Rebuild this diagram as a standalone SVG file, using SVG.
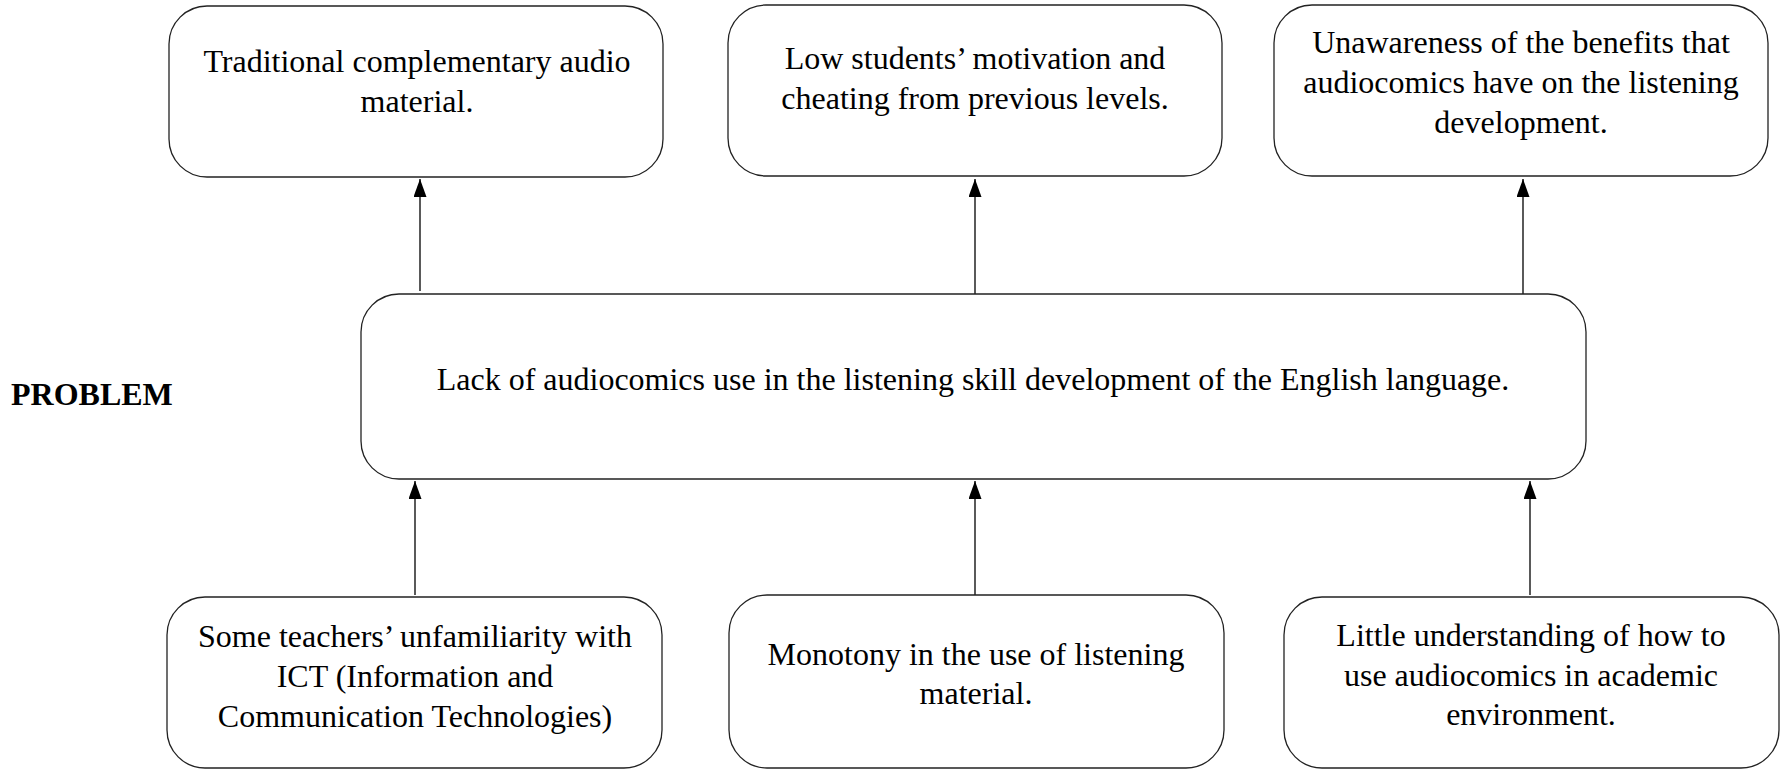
<svg xmlns="http://www.w3.org/2000/svg" width="1781" height="769" viewBox="0 0 1781 769">
<style>
.box{fill:#fff;stroke:#222;stroke-width:1.3}
.t{font-family:"Liberation Serif","Times New Roman",serif;font-size:32px;fill:#000;text-anchor:middle}
.b{font-family:"Liberation Serif","Times New Roman",serif;font-size:32px;font-weight:bold;fill:#000}
.c{stroke:#000;stroke-width:1.3;fill:none;marker-end:url(#ah)}
</style>
<defs>
<marker id="ah" markerWidth="18" markerHeight="13" refX="18" refY="6.5" orient="auto" markerUnits="userSpaceOnUse" viewBox="0 0 18 13">
<path d="M0,0 L18,6.5 L0,13 Z" fill="#000"/>
</marker>
</defs>
<rect width="1781" height="769" fill="#fff"/>
<g id="connectors">
<line class="c" x1="420" y1="291" x2="420" y2="179"/>
<line class="c" x1="975" y1="294" x2="975" y2="179"/>
<line class="c" x1="1523" y1="294" x2="1523" y2="179"/>
<line class="c" x1="415" y1="595" x2="415" y2="481"/>
<line class="c" x1="975" y1="595" x2="975" y2="481"/>
<line class="c" x1="1530" y1="595" x2="1530" y2="481"/>
</g>
<g id="effect1">
<rect class="box" x="169" y="6" width="494" height="171" rx="38"/>
<text class="t" x="417" y="72">Traditional complementary audio</text>
<text class="t" x="417" y="112">material.</text>
</g>
<g id="effect2">
<rect class="box" x="728" y="5" width="494" height="171" rx="38"/>
<text class="t" x="975" y="69">Low students’ motivation and</text>
<text class="t" x="975" y="109">cheating from previous levels.</text>
</g>
<g id="effect3">
<rect class="box" x="1274" y="5" width="494" height="171" rx="38"/>
<text class="t" x="1521" y="53">Unawareness of the benefits that</text>
<text class="t" x="1521" y="93">audiocomics have on the listening</text>
<text class="t" x="1521" y="133">development.</text>
</g>
<g id="label-problem">
<text class="b" x="11" y="405">PROBLEM</text>
</g>
<g id="problem">
<rect class="box" x="361" y="294" width="1225" height="185" rx="38"/>
<text class="t" x="973" y="390">Lack of audiocomics use in the listening skill development of the English language.</text>
</g>
<g id="cause1">
<rect class="box" x="167" y="597" width="495" height="171" rx="38"/>
<text class="t" x="415" y="647">Some teachers’ unfamiliarity with</text>
<text class="t" x="415" y="687">ICT (Information and</text>
<text class="t" x="415" y="727">Communication Technologies)</text>
</g>
<g id="cause2">
<rect class="box" x="729" y="595" width="495" height="173" rx="38"/>
<text class="t" x="976" y="665">Monotony in the use of listening</text>
<text class="t" x="976" y="704">material.</text>
</g>
<g id="cause3">
<rect class="box" x="1284" y="597" width="495" height="171" rx="38"/>
<text class="t" x="1531" y="646">Little understanding of how to</text>
<text class="t" x="1531" y="686">use audiocomics in academic</text>
<text class="t" x="1531" y="725">environment.</text>
</g>
</svg>
